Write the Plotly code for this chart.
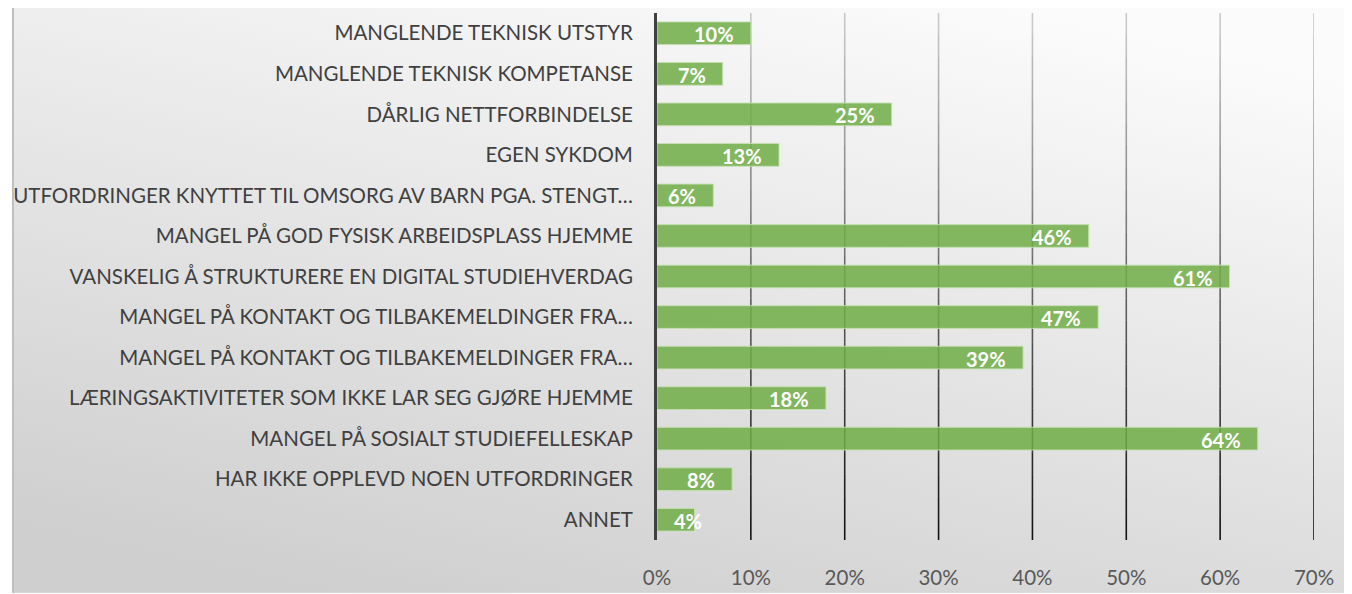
import base64
import plotly.graph_objects as go

categories = [
    "MANGLENDE TEKNISK UTSTYR",
    "MANGLENDE TEKNISK KOMPETANSE",
    "DÅRLIG NETTFORBINDELSE",
    "EGEN SYKDOM",
    "UTFORDRINGER KNYTTET TIL OMSORG AV BARN PGA. STENGT…",
    "MANGEL PÅ GOD FYSISK ARBEIDSPLASS HJEMME",
    "VANSKELIG Å STRUKTURERE EN DIGITAL STUDIEHVERDAG",
    "MANGEL PÅ KONTAKT OG TILBAKEMELDINGER FRA…",
    "MANGEL PÅ KONTAKT OG TILBAKEMELDINGER FRA…",
    "LÆRINGSAKTIVITETER SOM IKKE LAR SEG GJØRE HJEMME",
    "MANGEL PÅ SOSIALT STUDIEFELLESKAP",
    "HAR IKKE OPPLEVD NOEN UTFORDRINGER",
    "ANNET",
]
values = [0.10, 0.07, 0.25, 0.13, 0.06, 0.46, 0.61, 0.47, 0.39, 0.18, 0.64, 0.08, 0.04]
x_ticks = [0, 0.1, 0.2, 0.3, 0.4, 0.5, 0.6, 0.7]
x_tick_labels = ["0%", "10%", "20%", "30%", "40%", "50%", "60%", "70%"]

# page body adds an 8px margin; figure fills the rest
OFF = 8
W, H = 1352 - OFF, 594 - OFF
ML, MR, MT, MB = 655 - OFF, 38, 13 - OFF, 53
PW, PH = W - ML - MR, H - MT - MB

FONT = "Lato"
positions = list(range(len(categories)))

fig = go.Figure()
fig.add_trace(go.Bar(
    x=values, y=positions, orientation="h",
    marker=dict(color="rgba(112,173,71,0.86)",
                line=dict(color="rgba(197,224,180,0.9)", width=1)),
    hoverinfo="skip",
))

# data labels
for p, v in zip(positions, values):
    shift = -15 if v >= 0.05 else 9
    fig.add_annotation(x=v, y=p, text=f"<b>{round(v*100)}%</b>", showarrow=False,
                       xanchor="right", yanchor="middle", xshift=shift, yshift=-1,
                       font=dict(family=FONT, size=20, color="white"))

# gradient background via SVG
svg = (
    '<svg xmlns="http://www.w3.org/2000/svg" width="1344" height="586" preserveAspectRatio="none">'
    '<defs><linearGradient id="g" x1="0.75" y1="0" x2="0.25" y2="1">'
    '<stop offset="0" stop-color="#fbfbfb"/>'
    '<stop offset="1" stop-color="#cfcfcf"/>'
    '</linearGradient></defs>'
    '<rect x="0" y="0" width="1344" height="586" fill="url(#g)"/>'
    '</svg>'
)
src = "data:image/svg+xml;base64," + base64.b64encode(svg.encode()).decode()
fig.add_layout_image(dict(source=src, xref="paper", yref="paper",
                          x=-ML / PW, y=1 + MT / PH, sizex=W / PW, sizey=H / PH,
                          xanchor="left", yanchor="top", sizing="stretch", layer="below"))

# gradient gridlines (light at top, dark at bottom)
NSEG = 24
for t in x_ticks[1:]:
    for k in range(NSEG):
        y0 = 1 - k / NSEG
        y1 = 1 - (k + 1) / NSEG
        a = 0.18 + 0.75 * (k + 0.5) / NSEG
        fig.add_shape(type="line", xref="x", yref="paper", x0=t, x1=t, y0=y0, y1=y1,
                      line=dict(color=f"rgba(0,0,0,{a:.3f})", width=1.6), layer="below")

# left chart border
fig.add_shape(type="line", xref="paper", yref="paper",
              x0=(1 - ML) / PW, x1=(1 - ML) / PW, y0=-MB / PH, y1=1 + MT / PH,
              line=dict(color="#bfbfbf", width=2), layer="above")

fig.update_layout(
    width=W, height=H,
    margin=dict(l=ML, r=MR, t=MT, b=MB),
    paper_bgcolor="rgba(0,0,0,0)", plot_bgcolor="rgba(0,0,0,0)",
    bargap=0.44, showlegend=False,
    font=dict(family=FONT, size=20, color="#404040"),
    xaxis=dict(range=[0, 0.7], tickvals=x_ticks, ticktext=x_tick_labels,
               showgrid=False, zeroline=False, showline=False,
               ticks="", ticklabelstandoff=23,
               tickfont=dict(family=FONT, size=20.5, color="#595959"), fixedrange=True),
    yaxis=dict(tickvals=positions, ticktext=categories, range=[12.5, -0.5],
               showgrid=False, zeroline=False, showline=True, linecolor="#404040",
               linewidth=3, ticks="", ticklabelstandoff=17,
               tickfont=dict(family=FONT, size=20.5, color="#404040"), fixedrange=True),
)

fig.write_html("out.html")
